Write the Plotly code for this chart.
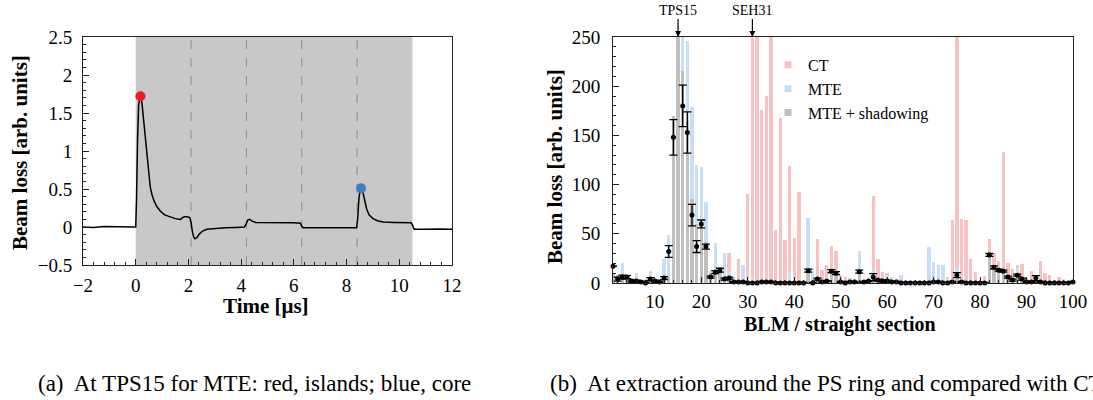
import plotly.graph_objects as go

# ---------------- Panel (a): BLM signal at TPS15 ----------------
time_us = [-2.0, -1.6, -1.2, -0.8, -0.4, -0.1, 0.0, 0.03, 0.07, 0.11, 0.15, 0.19, 0.24, 0.3, 0.36,
           0.42, 0.48, 0.55, 0.62, 0.7, 0.8, 0.93, 1.1, 1.3, 1.5, 1.7, 1.76, 1.85, 1.95, 2.05,
           2.1, 2.15, 2.2, 2.25, 2.32, 2.42, 2.55, 2.7, 3.0, 3.4, 3.8, 4.12, 4.18, 4.25, 4.32,
           4.4, 4.55, 4.8, 5.2, 5.6, 6.0, 6.25, 6.3, 6.36, 6.8, 7.4, 8.0, 8.38, 8.42, 8.47, 8.52,
           8.57, 8.63, 8.7, 8.76, 8.85, 9.0, 9.2, 9.4, 9.8, 10.2, 10.45, 10.5, 10.56, 11.0, 11.5, 12.0]
loss_au = [0.0, -0.005, 0.005, 0.0, 0.0, 0.0, 0.0, 0.35, 1.15, 1.6, 1.7, 1.72, 1.62, 1.4, 1.15,
           0.92, 0.7, 0.53, 0.42, 0.34, 0.27, 0.21, 0.16, 0.13, 0.11, 0.1, 0.12, 0.135, 0.135, 0.125,
           0.06, -0.06, -0.13, -0.155, -0.14, -0.09, -0.05, -0.03, -0.02, -0.01, -0.005, 0.0, 0.03, 0.09, 0.1,
           0.08, 0.06, 0.06, 0.06, 0.055, 0.055, 0.05, 0.01, -0.01, -0.01, -0.01, -0.01, -0.01, 0.1, 0.38, 0.5,
           0.5, 0.44, 0.34, 0.24, 0.16, 0.11, 0.08, 0.066, 0.06, 0.06, 0.055, 0.03, -0.03, -0.03, -0.025, -0.03]
marker_t = [0.18, 8.55]
marker_v = [1.72, 0.51]
marker_colors = ["#e3201c", "#3b7fc1"]
extraction_window = [0.0, 10.5]
turn_times = [2.1, 4.2, 6.3, 8.4]

# ---------------- Panel (b): losses around the PS ring ----------------
blm = list(range(1, 101))
ct_loss = [2, 1, 1, 1, 1, 1, 1, 4, 2, 1, 1, 1, 2, 3, 3, 3, 3, 2, 2, 2,
           2, 3, 3, 4, 6, 30, 5, 24, 2, 90, 300, 300, 176, 190, 300, 54, 168, 44, 119, 46,
           92, 2, 10, 4, 45, 13, 18, 38, 33, 8, 6, 5, 4, 3, 3, 4, 88, 24, 11, 10,
           6, 4, 3, 2, 2, 1, 1, 1, 2, 2, 2, 2, 6, 64, 300, 65, 64, 24, 11, 2,
           7, 45, 31, 22, 133, 20, 14, 18, 19, 5, 12, 4, 22, 10, 8, 3, 6, 2, 2, 2]
mte_loss = [4, 6, 20, 6, 4, 10, 3, 2, 12, 4, 3, 24, 49, 160, 300, 300, 246, 179, 120, 118,
            82, 12, 41, 16, 30, 12, 6, 4, 18, 3, 5, 3, 2, 2, 2, 2, 1, 1, 12, 2,
            1, 1, 66, 15, 6, 4, 6, 10, 10, 4, 2, 2, 2, 33, 3, 3, 13, 5, 3, 8,
            5, 2, 8, 2, 1, 1, 1, 1, 37, 21, 18, 18, 4, 4, 15, 4, 3, 3, 2, 1,
            2, 25, 15, 12, 10, 6, 4, 15, 6, 3, 3, 6, 3, 2, 2, 2, 2, 4, 2, 1]
mte_shadow_loss = [10, 8, 7, 6, 3, 3, 2, 1, 5, 3, 2, 6, 6, 170, 300, 215, 165, 85, 60, 62,
                   42, 10, 14, 15, 6, 6, 3, 2, 2, 1, 1, 1, 1, 1, 1, 1, 1, 1, 1, 1,
                   1, 1, 12, 3, 5, 2, 3, 13, 11, 4, 1, 1, 2, 12, 2, 2, 7, 4, 3, 3,
                   2, 1, 1, 1, 1, 0, 0, 0, 1, 2, 1, 1, 1, 2, 7, 2, 1, 1, 1, 1,
                   1, 28, 17, 14, 12, 6, 3, 9, 4, 2, 2, 6, 2, 1, 1, 1, 1, 1, 1, 1]
measured = [17, 4, 6, 6, 2, 2, 1, 0, 4, 2, 1, 5, 32, 148, None, 180, 153, 69, 37, 60,
            37, 6, 11, 13, 4, 5, 1, 1, 1, 0, 0, 0, 1, 1, 1, 0, 0, 0, 0, 0,
            0, 0, 12.5, 0, 4, 1, 2, 12, 10, 1, 0, 1, 1, 11.5, 1, 2, 6, 3, 2, 2,
            1, 1, 0, 0, 0, 0, 0, 0, 0, 1, 1, 0, 0, 1, 8, 1, 0, 0, 0, 0,
            0, 28.5, 16, 13, 12, 6, 3, 8, 4, 1, 1, 5, 1, 0, 0, 0, 0, 0, 0, 1]
measured_err = [0, 2, 2, 1.5, 1, 1, 1, 0.5, 1.5, 1, 0.5, 1.5, 6, 18, 20, 21, 21, 11, 6, 4,
                2.5, 1, 1.5, 2, 1, 1, 0.5, 0.5, 0.5, 0.5, 0.5, 0.5, 0.5, 0.5, 0.5, 0.5, 0.5, 0.5, 0.5, 0.5,
                0.5, 0.5, 1.5, 0.5, 1, 1, 0.5, 1.5, 1.5, 0.5, 0.5, 0.5, 0.5, 1.5, 0.5, 0.5, 3.5, 1, 1, 1,
                0.5, 0.5, 0.5, 0.5, 0.5, 0.5, 0.5, 0.5, 0.5, 0.5, 0.5, 0.5, 0.5, 0.5, 2.5, 0.5, 0.5, 0.5, 0.5, 0.5,
                0.5, 1.5, 1.5, 1, 1, 1, 1, 1, 1, 0.5, 0.5, 2.5, 0.5, 0.5, 0.5, 0.5, 0.5, 0.5, 0.5, 0.5]
series_names = ["CT", "MTE", "MTE + shadowing"]
series_colors = ["#f8c2c2", "#c8def4", "#bfbfbf"]
pointers = [(15, "TPS15"), (31, "SEH31")]

SERIF = "Liberation Serif"
W, H = 1093, 400

fig = go.Figure()

# panel (a)
fig.add_trace(go.Scatter(x=time_us, y=loss_au, mode="lines",
                         line=dict(color="black", width=1.5), showlegend=False,
                         xaxis="x", yaxis="y"))
fig.add_trace(go.Scatter(x=marker_t, y=marker_v, mode="markers",
                         marker=dict(color=marker_colors, size=10), showlegend=False,
                         xaxis="x", yaxis="y"))

# panel (b) bars (overlaid)
for vals, name, col in zip([ct_loss, mte_loss, mte_shadow_loss], series_names, series_colors):
    fig.add_trace(go.Bar(x=blm, y=vals, name=name, marker=dict(color=col, line=dict(width=0)),
                         width=0.72, showlegend=False, xaxis="x2", yaxis="y2"))
# legend entries (small squares)
for name, col in zip(series_names, series_colors):
    fig.add_trace(go.Scatter(x=[None], y=[None], mode="markers", name=name,
                             marker=dict(symbol="square", size=7, color=col),
                             showlegend=True, xaxis="x2", yaxis="y2"))
# measurements
fig.add_trace(go.Scatter(x=blm, y=measured, mode="markers",
                         marker=dict(color="black", size=5),
                         error_y=dict(type="data", array=measured_err, color="black",
                                      thickness=1.3, width=4),
                         cliponaxis=False, showlegend=False, xaxis="x2", yaxis="y2"))

axis_common = dict(showline=True, linecolor="#222", linewidth=1, mirror=True, automargin=False,
                   ticks="inside", ticklen=6, tickcolor="#222", showgrid=False, zeroline=False,
                   tickfont=dict(family=SERIF, size=19, color="black"))

fig.update_layout(
    width=W, height=H, margin=dict(l=0, r=0, t=0, b=0, autoexpand=False),
    paper_bgcolor="white", plot_bgcolor="white", barmode="overlay", bargap=0,
    xaxis=dict(domain=[83 / W, 452 / W], range=[-2, 12], tickvals=[-2, 0, 2, 4, 6, 8, 10, 12],
               ticktext=["−2", "0", "2", "4", "6", "8", "10", "12"],
               minor=dict(dtick=0.4, ticks="inside", ticklen=3, tickcolor="#222"),
               anchor="y", ticklabelstandoff=3, **axis_common),
    yaxis=dict(domain=[1 - 265 / H, 1 - 37 / H], range=[-0.5, 2.5],
               tickvals=[-0.5, 0, 0.5, 1, 1.5, 2, 2.5],
               ticktext=["−0.5", "0", "0.5", "1", "1.5", "2", "2.5"],
               minor=dict(dtick=0.1, ticks="inside", ticklen=3, tickcolor="#222"),
               anchor="x", ticklabelstandoff=6, **axis_common),
    xaxis2=dict(domain=[613 / W, 1073 / W], range=[1, 100],
                tickvals=[10, 20, 30, 40, 50, 60, 70, 80, 90, 100],
                minor=dict(dtick=2, ticks="inside", ticklen=3, tickcolor="#222"),
                anchor="y2", ticklabelstandoff=1, **axis_common),
    yaxis2=dict(domain=[1 - 283 / H, 1 - 37 / H], range=[0, 250],
                tickvals=[0, 50, 100, 150, 200, 250],
                minor=dict(dtick=10, ticks="inside", ticklen=3, tickcolor="#222"),
                anchor="x2", ticklabelstandoff=8, **axis_common),
    legend=dict(x=768 / W, y=1 - 48 / H, xanchor="left", yanchor="top",
                font=dict(family=SERIF, size=16, color="black"),
                bgcolor="rgba(0,0,0,0)", itemwidth=30, tracegroupgap=0),
)

# shaded extraction window and turn separators
fig.add_shape(type="rect", xref="x", yref="y domain", x0=extraction_window[0], x1=extraction_window[1],
              y0=0, y1=1, fillcolor="#c8c8c8", line=dict(width=0), layer="below")
for t in turn_times:
    fig.add_shape(type="line", xref="x", yref="y domain", x0=t, x1=t, y0=0, y1=1,
                  line=dict(color="#8c8c8c", width=1, dash="dash"), layer="below")

# pointers on panel (b)
for xpos, label_text in pointers:
    fig.add_annotation(x=xpos, y=250, xref="x2", yref="y2", text=label_text, showarrow=True,
                       arrowhead=2, arrowsize=1, arrowwidth=1.2, arrowcolor="black",
                       ax=0, ay=-27, font=dict(family=SERIF, size=14, color="black"))

# axis titles
title_font = dict(family=SERIF, size=21, color="black")
def label(text, xpx, ypx, angle=0, anchor="center", font=title_font):
    fig.add_annotation(text=text, x=xpx / W, y=1 - ypx / H, xref="paper", yref="paper",
                       xanchor=anchor, yanchor="middle", textangle=angle, showarrow=False, font=font)

label("<b>Beam loss [arb. units]</b>", 20, 153, angle=-90)
label("<b>Time [μs]</b>", 266, 306)
label("<b>Beam loss [arb. units]</b>", 555, 167, angle=-90)
label("<b>BLM / straight section</b>", 840, 324, font=dict(family=SERIF, size=20, color="black"))

# captions
cap_font = dict(family=SERIF, size=23, color="black")
label("(a)  At TPS15 for MTE: red, islands; blue, core", 36, 383, anchor="left", font=cap_font)
label("(b)  At extraction around the PS ring and compared with CT", 548, 383, anchor="left", font=cap_font)

fig.write_html("out.html")
